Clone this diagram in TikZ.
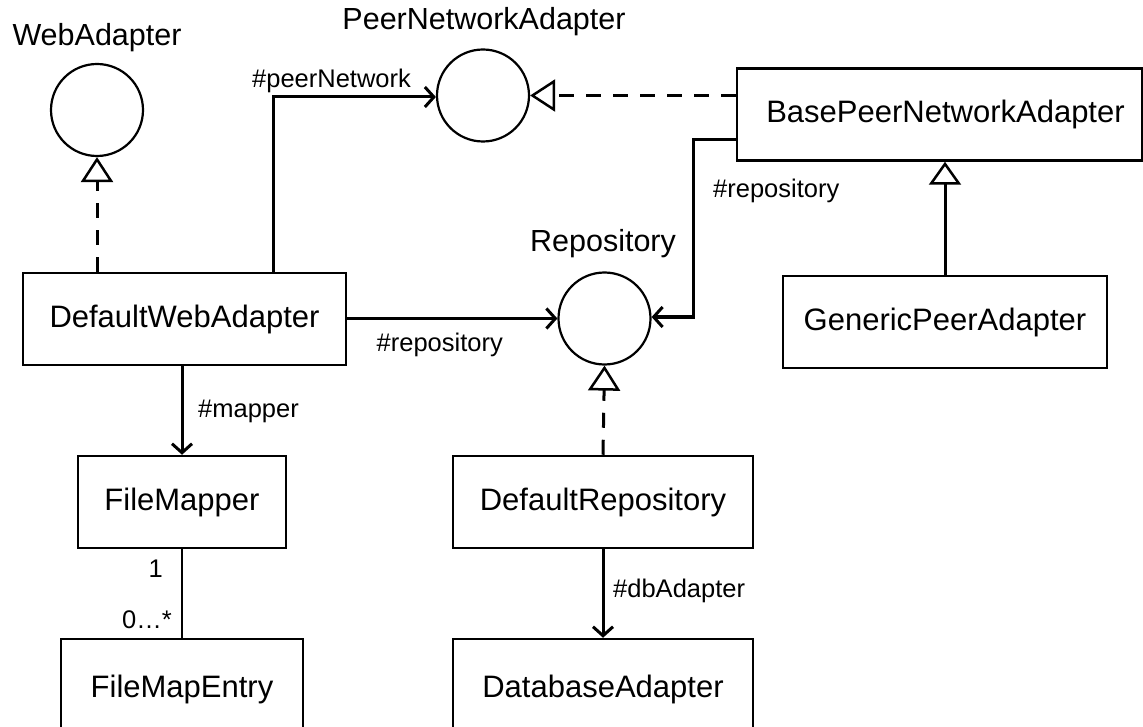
\documentclass[tikz,border=0pt]{standalone}
\usepackage{fontspec}
\setmainfont{Liberation Sans}
\usetikzlibrary{arrows.meta}
\begin{document}
\begin{tikzpicture}[x=1pt,y=-1pt,
  box/.style={draw,line width=2.5pt,rectangle,inner sep=0pt,font=\fontsize{31}{36}\selectfont},
  iface/.style={draw,line width=2.2pt,circle,inner sep=0pt,minimum size=92pt},
  title/.style={inner sep=0pt,font=\fontsize{30.5}{36}\selectfont},
  lbl/.style={inner sep=0pt,font=\fontsize{25.5}{30}\selectfont},
  assoc/.style={line width=3pt,-{Straight Barb[length=9pt,width=20pt,line width=3pt]}},
  real/.style={line width=3pt,dash pattern=on 15pt off 12pt,-{Triangle[open,length=25pt,width=32pt,line width=2.5pt,fill=white]}},
  gen/.style={line width=3pt,-{Triangle[open,length=23pt,width=32pt,line width=2.5pt,fill=white]}},
  plain/.style={line width=2.5pt}
]
\useasboundingbox (0,0) rectangle (1143,727);
% interfaces
\node[iface] (web) at (97,110) {};
\node[iface] (peer) at (483,95.5) {};
\node[iface] (repo) at (604.5,318.5) {};
\node[title,anchor=base] (webT) at (97,46) {WebAdapter};
\node[title,anchor=base] (peerT) at (484,30) {PeerNetworkAdapter};
\node[title,anchor=base] (repoT) at (603,252) {Repository};
% classes
\node[box,minimum width=323pt,minimum height=92pt] (dwa) at (184.5,319) {DefaultWebAdapter};
\node[box,minimum width=208pt,minimum height=92pt] (fm) at (182,502) {FileMapper};
\node[box,minimum width=242pt,minimum height=100pt] (fme) at (182,689) {FileMapEntry};
\node[box,minimum width=300pt,minimum height=92pt] (drepo) at (603,502) {DefaultRepository};
\node[box,minimum width=300pt,minimum height=100pt] (dba) at (603,689) {DatabaseAdapter};
\node[box,minimum width=405pt,minimum height=92pt,text width=405pt,align=center] (bpna) at (939.5,114.5) {\hspace*{12pt}BasePeerNetworkAdapter};
\node[box,minimum width=324pt,minimum height=92pt] (gpa) at (945,322) {GenericPeerAdapter};
% helper coordinates
\coordinate (pnA) at (273,97);
\coordinate (rpA) at (693,140);
\coordinate (rpB) at (693,317);
% connectors
\draw[real] (dwa.north -| web) -- (web.south);
\draw[real] (bpna.west |- peer) -- (peer.east);
\draw[real] (drepo.north) -- (repo.south);
\draw[gen] (gpa.north) -- (gpa.north |- bpna.south);
\draw[assoc] (dwa.north -| pnA) -- (pnA) -- (peer.west |- pnA);
\draw[assoc] (dwa.east |- repo) -- (repo.west);
\draw[assoc] (bpna.west |- rpA) -- (rpA) -- (rpB) -- (repo.east |- rpB);
\draw[assoc] (dwa.south -| fm) -- (fm.north);
\draw[assoc] (drepo.south) -- (dba.north);
\draw[plain] (fm.south) -- (fme.north);
% labels
\node[lbl,anchor=base west] (l1) at (252,88) {\#peerNetwork};
\node[lbl,anchor=base west] (l2) at (713,198) {\#repository};
\node[lbl,anchor=base east] (l3) at (503,352) {\#repository};
\node[lbl,anchor=base west] (l4) at (198,417) {\#mapper};
\node[lbl,anchor=base west] (l5) at (613,597) {\#dbAdapter};
\node[lbl,anchor=base east] (l6) at (163,577) {1};
\node[lbl,anchor=base east] (l7) at (172,628) {0…*};
\end{tikzpicture}
\end{document}
